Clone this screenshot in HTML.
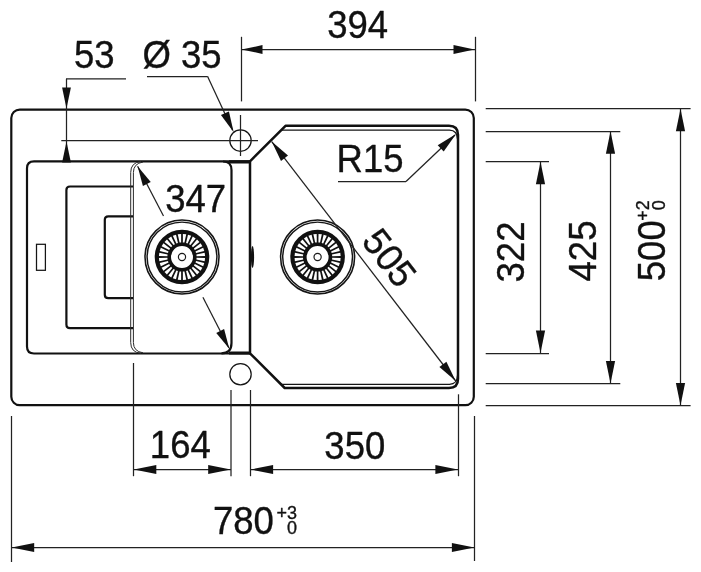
<!DOCTYPE html>
<html><head><meta charset="utf-8"><title>Sink drawing</title>
<style>
html,body{margin:0;padding:0;background:#fff;}
body{width:701px;height:572px;overflow:hidden;font-family:"Liberation Sans",sans-serif;}
svg{display:block;will-change:transform}
.o{fill:none;stroke:#111;stroke-width:2.2;stroke-linejoin:round}
.b{fill:none;stroke:#111;stroke-width:2.5;stroke-linejoin:round}
.t{fill:none;stroke:#151515;stroke-width:1.25}
.d{fill:none;stroke:#222;stroke-width:1.25}
.t2{fill:none;stroke:#2a2a2a;stroke-width:1}
.ar{fill:#111;stroke:none}
text{font-family:"Liberation Sans",sans-serif;fill:#111;stroke:#111;stroke-width:0.35px;stroke-linejoin:round}
.n{font-size:36.5px}
.s{font-size:18px}
</style></head><body>
<svg width="701" height="572" viewBox="0 0 701 572">
<rect width="701" height="572" fill="#fff"/>

<rect class="o" x="11.3" y="109.6" width="462.5" height="295.6" rx="8.5" ry="8.5"/>
<path class="o" d="M250,161.3 H34 Q27,161.3 27,168.3 V346.500 Q27,353.5 34,353.5 H250"/>
<path class="o" d="M133,186.5 H70 Q66.4,186.5 66.4,190 V324.5 Q66.4,328.1 70,328.1 H133"/>
<path class="o" d="M133,216.3 H108.3 Q104.8,216.3 104.8,219.8 V294.7 Q104.8,298.2 108.3,298.2 H133"/>
<path class="t2" d="M141,161.5 Q130.7,162.5 130.7,172.5 V342.500 Q130.7,352.5 141,353.3"/>
<path class="t2" d="M143,162 Q133.4,163.5 133.4,172.5 V342.500 Q133.4,351.5 143,352.8"/>
<path class="o" d="M223,161.5 Q231.500,161.5 231.500,170 V343 Q231.500,353.3 221.5,353.3"/>
<rect class="t" x="36.5" y="244.3" width="8.9" height="26"/>
<path class="b" d="M250,161.3 L285.5,125.8 H449 Q458,125.8 458,134.8 V379 Q458,388 449,388 H284.7 L250,353.3 Z"/>
<path class="t" d="M281,130.2 H449.500 Q457.3,130.4 457.5,139"/>
<path class="t" d="M281,384.3 H449.500 Q457.3,384.1 457.5,375.500"/>
<path d="M229,161.8 H250.500 M229,353 H250.500" fill="none" stroke="#111" stroke-width="3.2"/>
<ellipse cx="252.5" cy="257" rx="1.6" ry="11" fill="#111"/>
<circle class="t" cx="240.5" cy="140.6" r="10.700"/>
<circle class="t" cx="240.500" cy="374.200" r="10.700"/>
<line class="d" x1="61.30" y1="140.50" x2="258.00" y2="140.50"/>
<line class="d" x1="241.50" y1="36.80" x2="241.50" y2="101.40"/>
<line class="d" x1="240.50" y1="115.00" x2="240.50" y2="156.00"/>
<g transform="translate(182.00,257.00)"><circle r="37.0" fill="#fff" stroke="#151515" stroke-width="1.55"/><circle r="34.9" fill="none" stroke="#151515" stroke-width="1.45"/><circle r="19.15" fill="none" stroke="#111" stroke-width="16.3"/><polygon fill="#fff" points="14.60,0.84 23.05,0.89 22.67,4.26 14.42,2.43"/><polygon fill="#fff" points="14.04,4.07 22.27,5.99 21.15,9.20 13.52,5.58"/><polygon fill="#fff" points="12.79,7.09 20.38,10.80 18.57,13.68 11.94,8.45"/><polygon fill="#fff" points="10.89,9.76 17.47,15.06 15.06,17.47 9.76,10.89"/><polygon fill="#fff" points="8.45,11.94 13.68,18.57 10.80,20.38 7.09,12.79"/><polygon fill="#fff" points="5.58,13.52 9.20,21.15 5.99,22.27 4.07,14.04"/><polygon fill="#fff" points="2.43,14.42 4.26,22.67 0.89,23.05 0.84,14.60"/><polygon fill="#fff" points="-0.84,14.60 -0.89,23.05 -4.26,22.67 -2.43,14.42"/><polygon fill="#fff" points="-4.07,14.04 -5.99,22.27 -9.20,21.15 -5.58,13.52"/><polygon fill="#fff" points="-7.09,12.79 -10.80,20.38 -13.68,18.57 -8.45,11.94"/><polygon fill="#fff" points="-9.76,10.89 -15.06,17.47 -17.47,15.06 -10.89,9.76"/><polygon fill="#fff" points="-11.94,8.45 -18.57,13.68 -20.38,10.80 -12.79,7.09"/><polygon fill="#fff" points="-13.52,5.58 -21.15,9.20 -22.27,5.99 -14.04,4.07"/><polygon fill="#fff" points="-14.42,2.43 -22.67,4.26 -23.05,0.89 -14.60,0.84"/><polygon fill="#fff" points="-14.60,-0.84 -23.05,-0.89 -22.67,-4.26 -14.42,-2.43"/><polygon fill="#fff" points="-14.04,-4.07 -22.27,-5.99 -21.15,-9.20 -13.52,-5.58"/><polygon fill="#fff" points="-12.79,-7.09 -20.38,-10.80 -18.57,-13.68 -11.94,-8.45"/><polygon fill="#fff" points="-10.89,-9.76 -17.47,-15.06 -15.06,-17.47 -9.76,-10.89"/><polygon fill="#fff" points="-8.45,-11.94 -13.68,-18.57 -10.80,-20.38 -7.09,-12.79"/><polygon fill="#fff" points="-5.58,-13.52 -9.20,-21.15 -5.99,-22.27 -4.07,-14.04"/><polygon fill="#fff" points="-2.43,-14.42 -4.26,-22.67 -0.89,-23.05 -0.84,-14.60"/><polygon fill="#fff" points="0.84,-14.60 0.89,-23.05 4.26,-22.67 2.43,-14.42"/><polygon fill="#fff" points="4.07,-14.04 5.99,-22.27 9.20,-21.15 5.58,-13.52"/><polygon fill="#fff" points="7.09,-12.79 10.80,-20.38 13.68,-18.57 8.45,-11.94"/><polygon fill="#fff" points="9.76,-10.89 15.06,-17.47 17.47,-15.06 10.89,-9.76"/><polygon fill="#fff" points="11.94,-8.45 18.57,-13.68 20.38,-10.80 12.79,-7.09"/><polygon fill="#fff" points="13.52,-5.58 21.15,-9.20 22.27,-5.99 14.04,-4.07"/><polygon fill="#fff" points="14.42,-2.43 22.67,-4.26 23.05,-0.89 14.60,-0.84"/><circle r="3.6" fill="#fff" stroke="#1a1a1a" stroke-width="1.2"/></g>
<g transform="translate(317.60,257.00)"><circle r="37.0" fill="#fff" stroke="#151515" stroke-width="1.55"/><circle r="34.9" fill="none" stroke="#151515" stroke-width="1.45"/><circle r="19.15" fill="none" stroke="#111" stroke-width="16.3"/><polygon fill="#fff" points="14.60,0.84 23.05,0.89 22.67,4.26 14.42,2.43"/><polygon fill="#fff" points="14.04,4.07 22.27,5.99 21.15,9.20 13.52,5.58"/><polygon fill="#fff" points="12.79,7.09 20.38,10.80 18.57,13.68 11.94,8.45"/><polygon fill="#fff" points="10.89,9.76 17.47,15.06 15.06,17.47 9.76,10.89"/><polygon fill="#fff" points="8.45,11.94 13.68,18.57 10.80,20.38 7.09,12.79"/><polygon fill="#fff" points="5.58,13.52 9.20,21.15 5.99,22.27 4.07,14.04"/><polygon fill="#fff" points="2.43,14.42 4.26,22.67 0.89,23.05 0.84,14.60"/><polygon fill="#fff" points="-0.84,14.60 -0.89,23.05 -4.26,22.67 -2.43,14.42"/><polygon fill="#fff" points="-4.07,14.04 -5.99,22.27 -9.20,21.15 -5.58,13.52"/><polygon fill="#fff" points="-7.09,12.79 -10.80,20.38 -13.68,18.57 -8.45,11.94"/><polygon fill="#fff" points="-9.76,10.89 -15.06,17.47 -17.47,15.06 -10.89,9.76"/><polygon fill="#fff" points="-11.94,8.45 -18.57,13.68 -20.38,10.80 -12.79,7.09"/><polygon fill="#fff" points="-13.52,5.58 -21.15,9.20 -22.27,5.99 -14.04,4.07"/><polygon fill="#fff" points="-14.42,2.43 -22.67,4.26 -23.05,0.89 -14.60,0.84"/><polygon fill="#fff" points="-14.60,-0.84 -23.05,-0.89 -22.67,-4.26 -14.42,-2.43"/><polygon fill="#fff" points="-14.04,-4.07 -22.27,-5.99 -21.15,-9.20 -13.52,-5.58"/><polygon fill="#fff" points="-12.79,-7.09 -20.38,-10.80 -18.57,-13.68 -11.94,-8.45"/><polygon fill="#fff" points="-10.89,-9.76 -17.47,-15.06 -15.06,-17.47 -9.76,-10.89"/><polygon fill="#fff" points="-8.45,-11.94 -13.68,-18.57 -10.80,-20.38 -7.09,-12.79"/><polygon fill="#fff" points="-5.58,-13.52 -9.20,-21.15 -5.99,-22.27 -4.07,-14.04"/><polygon fill="#fff" points="-2.43,-14.42 -4.26,-22.67 -0.89,-23.05 -0.84,-14.60"/><polygon fill="#fff" points="0.84,-14.60 0.89,-23.05 4.26,-22.67 2.43,-14.42"/><polygon fill="#fff" points="4.07,-14.04 5.99,-22.27 9.20,-21.15 5.58,-13.52"/><polygon fill="#fff" points="7.09,-12.79 10.80,-20.38 13.68,-18.57 8.45,-11.94"/><polygon fill="#fff" points="9.76,-10.89 15.06,-17.47 17.47,-15.06 10.89,-9.76"/><polygon fill="#fff" points="11.94,-8.45 18.57,-13.68 20.38,-10.80 12.79,-7.09"/><polygon fill="#fff" points="13.52,-5.58 21.15,-9.20 22.27,-5.99 14.04,-4.07"/><polygon fill="#fff" points="14.42,-2.43 22.67,-4.26 23.05,-0.89 14.60,-0.84"/><circle r="3.6" fill="#fff" stroke="#1a1a1a" stroke-width="1.2"/></g>
<line class="d" x1="475.50" y1="36.80" x2="475.50" y2="101.40"/>
<line class="d" x1="241.00" y1="49.50" x2="475.00" y2="49.50"/>
<polygon class="ar" points="241.50,49.50 262.50,45.10 262.50,53.90"/>
<polygon class="ar" points="474.50,49.50 453.50,53.90 453.50,45.10"/>
<text class="n" transform="translate(357.60,37.80) scale(1,1.040)" text-anchor="middle">394</text>
<line class="d" x1="66.00" y1="78.90" x2="126.00" y2="78.90"/>
<line class="d" x1="66.50" y1="78.90" x2="66.50" y2="161.00"/>
<polygon class="ar" points="66.50,108.50 62.10,87.50 70.90,87.50"/>
<polygon class="ar" points="66.50,141.50 70.90,162.50 62.10,162.50"/>
<text class="n" transform="translate(94.30,68.30) scale(1,1.040)" text-anchor="middle">53</text>
<line class="d" x1="147.00" y1="76.50" x2="207.50" y2="76.50"/>
<line class="d" x1="207.50" y1="76.30" x2="232.50" y2="130.00"/>
<polygon class="ar" points="233.70,132.30 220.93,115.06 228.92,111.38"/>
<text class="n" transform="translate(182.00,68.00) scale(1,1.040)" text-anchor="middle">Ø 35</text>
<line class="d" x1="137.60" y1="166.20" x2="163.50" y2="216.00"/>
<line class="d" x1="202.90" y1="297.30" x2="228.80" y2="347.80"/>
<polygon class="ar" points="137.60,166.20 150.73,181.91 142.92,185.97"/>
<polygon class="ar" points="229.30,348.80 216.26,333.01 224.09,329.00"/>
<text class="n" transform="translate(195.60,211.70) scale(1,1.040)" text-anchor="middle">347</text>
<line class="d" x1="338.00" y1="181.50" x2="406.00" y2="181.50"/>
<line class="d" x1="406.00" y1="181.50" x2="455.00" y2="135.00"/>
<polygon class="ar" points="456.00,134.00 443.71,151.59 437.69,145.18"/>
<text class="n" transform="translate(370.00,172.30) scale(1,1.040)" text-anchor="middle">R15</text>
<line class="d" x1="271.70" y1="141.60" x2="455.70" y2="381.00"/>
<polygon class="ar" points="271.70,141.60 287.99,155.57 281.01,160.93"/>
<polygon class="ar" points="455.70,381.00 439.41,367.03 446.39,361.67"/>
<text class="n" transform="translate(379.10,265.70) rotate(52.45) scale(1,1.040)" text-anchor="middle">505</text>
<line class="d" x1="485.70" y1="108.50" x2="690.60" y2="108.50"/>
<line class="d" x1="485.70" y1="131.50" x2="620.30" y2="131.50"/>
<line class="d" x1="485.70" y1="161.50" x2="549.00" y2="161.50"/>
<line class="d" x1="485.70" y1="353.50" x2="549.00" y2="353.50"/>
<line class="d" x1="485.70" y1="383.50" x2="620.30" y2="383.50"/>
<line class="d" x1="485.70" y1="405.50" x2="690.60" y2="405.50"/>
<line class="d" x1="540.50" y1="161.80" x2="540.50" y2="353.00"/>
<polygon class="ar" points="540.50,161.80 545.10,184.30 535.90,184.30"/>
<polygon class="ar" points="540.50,353.00 535.90,330.50 545.10,330.50"/>
<line class="d" x1="610.50" y1="131.30" x2="610.50" y2="383.60"/>
<polygon class="ar" points="610.50,131.30 615.10,153.80 605.90,153.80"/>
<polygon class="ar" points="610.50,383.60 605.90,361.10 615.10,361.10"/>
<line class="d" x1="680.50" y1="108.80" x2="680.50" y2="405.60"/>
<polygon class="ar" points="680.50,108.80 685.10,131.30 675.90,131.30"/>
<polygon class="ar" points="680.50,405.60 675.90,383.10 685.10,383.10"/>
<text class="n" transform="translate(524.30,252.00) rotate(-90.00) scale(1,1.040)" text-anchor="middle">322</text>
<text class="n" transform="translate(595.80,251.00) rotate(-90.00) scale(1,1.040)" text-anchor="middle">425</text>
<g transform="translate(665.2,281.2) rotate(-90) scale(1,1.040)"><text class="n" x="0" y="0">500</text><text class="s" x="80.9" y="-15.2" text-anchor="end">+2</text><text class="s" x="80.9" y="0" text-anchor="end">0</text></g>
<line class="d" x1="133.50" y1="363.00" x2="133.50" y2="476.20"/>
<line class="d" x1="231.00" y1="390.00" x2="231.00" y2="476.20"/>
<line class="d" x1="250.50" y1="390.00" x2="250.50" y2="476.20"/>
<line class="d" x1="458.50" y1="394.30" x2="458.50" y2="476.20"/>
<line class="d" x1="133.20" y1="469.50" x2="231.00" y2="469.50"/>
<polygon class="ar" points="133.80,469.50 156.30,465.00 156.30,474.00"/>
<polygon class="ar" points="230.70,469.50 208.20,474.00 208.20,465.00"/>
<line class="d" x1="250.30" y1="469.50" x2="458.20" y2="469.50"/>
<polygon class="ar" points="250.60,469.50 273.10,465.00 273.10,474.00"/>
<polygon class="ar" points="457.90,469.50 435.40,474.00 435.40,465.00"/>
<text class="n" transform="translate(180.30,458.30) scale(1,1.040)" text-anchor="middle">164</text>
<text class="n" transform="translate(354.80,458.80) scale(1,1.040)" text-anchor="middle">350</text>
<line class="d" x1="11.50" y1="416.00" x2="11.50" y2="562.00"/>
<line class="d" x1="474.50" y1="416.00" x2="474.50" y2="561.00"/>
<line class="d" x1="11.40" y1="547.50" x2="474.70" y2="547.50"/>
<polygon class="ar" points="11.70,547.50 34.20,543.00 34.20,552.00"/>
<polygon class="ar" points="474.40,547.50 451.90,552.00 451.90,543.00"/>
<text class="n" transform="translate(213.00,534.20) scale(1,1.040)" text-anchor="start">780</text>
<text class="s" transform="translate(297.00,519.20) scale(1,1.040)" text-anchor="end">+3</text>
<text class="s" transform="translate(297.00,534.20) scale(1,1.040)" text-anchor="end">0</text>
</svg></body></html>
